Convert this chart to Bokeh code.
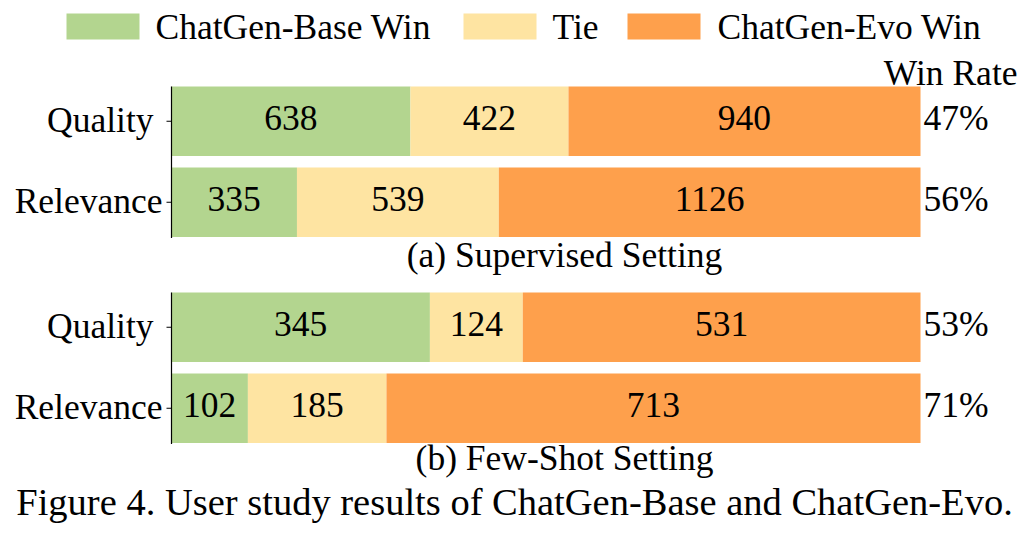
from bokeh.plotting import figure
from bokeh.models import Range1d
from bokeh.core.properties import value
from bokeh.embed import file_html
from bokeh.resources import INLINE

# ---------------- data ----------------
legend_labels = ["ChatGen-Base Win", "Tie", "ChatGen-Evo Win"]
panel_titles = ["(a) Supervised Setting", "(b) Few-Shot Setting"]
criteria = ["Quality", "Relevance"]
sup_base = [638, 335]
sup_tie = [422, 539]
sup_evo = [940, 1126]
fs_base = [345, 102]
fs_tie = [124, 185]
fs_evo = [531, 713]
rate_header = "Win Rate"
caption = "Figure 4. User study results of ChatGen-Base and ChatGen-Evo."

# ---------------- layout / style ----------------
COLORS = ["#b3d58f", "#fee4a2", "#fea04c"]
FONT = "Liberation Serif"
FS = "35.5px"
CAP_FS = "38.5px"
W, H = 1018, 526
OX, OY = 5, 8                    # view offset in layout units (reference px)
BASE_FIX = -13                   # alphabetic baseline correction
AX_X0, AX_X1 = 176, 925          # value span
PANEL_TOPS = [94, 300]
BAR_H = 69.5
ROW_STEP = 81
LABEL_RIGHT = 167
LABEL_SHIFT = {"Quality": 9}
LEG_BOX_X = [71, 468, 632]
LEG_BOX_W = 73
LEG_TXT_X = [160, 557, 722]
LEG_Y0, LEG_Y1 = 21, 47
TITLE_X = 569
TITLE_BASE = [275, 478]
CAP_X, CAP_BASE = 519, 522

p = figure(width=W, height=H, output_backend="svg", toolbar_location=None,
           x_range=Range1d(OX, OX + W), y_range=Range1d(OY + H, OY),
           x_axis_location=None, y_axis_location=None,
           min_border=0, min_border_left=0, min_border_right=0,
           min_border_top=0, min_border_bottom=0)
p.grid.visible = False
p.outline_line_color = None
p.background_fill_color = "white"
p.border_fill_color = "white"

def txt(x, y, t, align="left", rng="default", size=FS):
    kw = {} if rng == "default" else {"x_range_name": rng}
    p.text(x=x, y=[v + BASE_FIX for v in y], text=t, text_font=value(FONT),
           text_font_size=value(size), text_color="black", text_align=align,
           text_baseline="alphabetic", **kw)

panels = [(sup_base, sup_tie, sup_evo), (fs_base, fs_tie, fs_evo)]
for i, (base, tie, evo) in enumerate(panels):
    totals = [b + t + e for b, t, e in zip(base, tie, evo)]
    tot = max(totals)
    scale = tot / (AX_X1 - AX_X0)
    name = f"panel{i}"
    p.extra_x_ranges[name] = Range1d((OX - AX_X0) * scale, (OX + W - AX_X0) * scale)
    ys = [PANEL_TOPS[i] + BAR_H / 2 + j * ROW_STEP for j in range(len(criteria))]
    lefts = [0] * len(criteria)
    for series, col in zip((base, tie, evo), COLORS):
        rights = [l + v for l, v in zip(lefts, series)]
        p.hbar(y=ys, left=lefts, right=rights, height=BAR_H, fill_color=col,
               line_color=None, x_range_name=name)
        txt([l + v / 2 for l, v in zip(lefts, series)], [y + 10 for y in ys],
            [str(v) for v in series], align="center", rng=name)
        lefts = rights
    # win rate
    rates = [f"{round(e / t * 100)}%" for e, t in zip(evo, totals)]
    txt([AX_X1 + 3] * len(ys), [y + 10 for y in ys], rates)
    # category labels
    txt([LABEL_RIGHT - LABEL_SHIFT.get(c, 0) for c in criteria], [y + 12 for y in ys],
        criteria, align="right")
    # axis line & ticks
    p.segment(x0=[AX_X0], y0=[PANEL_TOPS[i]], x1=[AX_X0],
              y1=[PANEL_TOPS[i] + BAR_H + ROW_STEP * (len(criteria) - 1) + 1],
              line_color="black", line_width=1.2)
    p.segment(x0=[AX_X0 - 5] * len(ys), y0=ys, x1=[AX_X0] * len(ys), y1=ys,
              line_color="black", line_width=1.0)
    # panel title
    txt([TITLE_X], [TITLE_BASE[i]], [panel_titles[i]], align="center")

# header
txt([1022], [93], [rate_header], align="right")

# legend
p.quad(left=LEG_BOX_X, right=[x + LEG_BOX_W for x in LEG_BOX_X],
       top=[LEG_Y0] * 3, bottom=[LEG_Y1] * 3, fill_color=COLORS, line_color=None)
txt(LEG_TXT_X, [LEG_Y1] * 3, legend_labels)

# caption
txt([CAP_X], [CAP_BASE], [caption], align="center", size=CAP_FS)

open("out.html", "w").write(file_html(p, INLINE))
